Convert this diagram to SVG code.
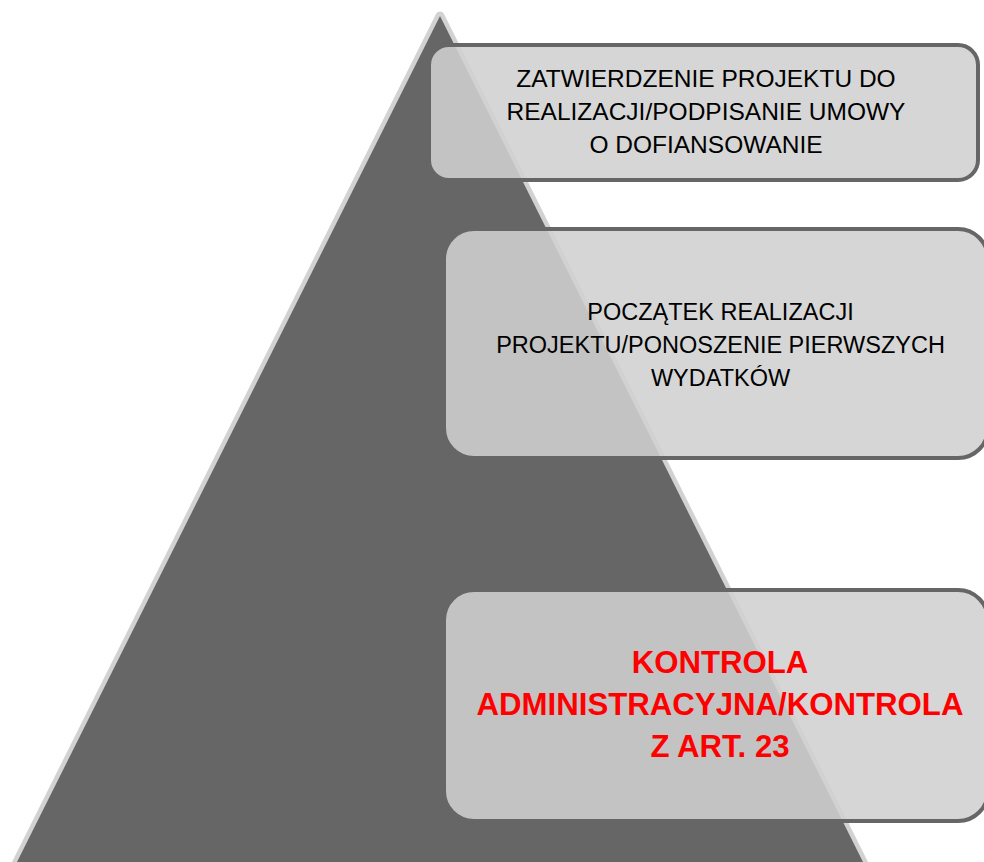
<svg xmlns="http://www.w3.org/2000/svg" width="984" height="862" viewBox="0 0 984 862">
  <style>
    .box { fill: #d0d0d0; fill-opacity: 0.88; stroke: #666666; stroke-width: 4; }
    .lbl { font-family: "Liberation Sans", Arial, sans-serif; text-anchor: middle; fill: #000000; }
    .hot { font-family: "Liberation Sans", Arial, sans-serif; text-anchor: middle; fill: #ff0000; font-weight: bold; font-size: 31.2px; }
  </style>
  <rect width="984" height="862" fill="#ffffff"/>

  <!-- pyramid: light rim drawn first, dark body on top -->
  <g id="pyramid">
    <polygon points="440,16 13,870 867,870" fill="#d2d2d2" stroke="#d2d2d2" stroke-width="9" stroke-linejoin="round"/>
    <polygon points="440,16 13,870 867,870" fill="#666666"/>
  </g>

  <g id="connectors"></g>

  <g id="stage-approval">
    <rect class="box" x="429" y="45" width="549" height="135" rx="20" ry="20"/>
    <text class="lbl" font-size="24.5" x="706" y="87">ZATWIERDZENIE PROJEKTU DO</text>
    <text class="lbl" font-size="24.5" x="706" y="120">REALIZACJI/PODPISANIE UMOWY</text>
    <text class="lbl" font-size="24.5" x="706" y="153">O DOFIANSOWANIE</text>
  </g>

  <g id="stage-start">
    <rect class="box" x="444" y="229" width="544" height="229" rx="30" ry="30"/>
    <text class="lbl" font-size="23.5" x="720.5" y="320">POCZĄTEK REALIZACJI</text>
    <text class="lbl" font-size="23.5" x="720.5" y="353">PROJEKTU/PONOSZENIE PIERWSZYCH</text>
    <text class="lbl" font-size="23.5" x="720.5" y="386">WYDATKÓW</text>
  </g>

  <g id="stage-control">
    <rect class="box" x="444" y="590" width="544" height="231" rx="30" ry="30"/>
    <text class="hot" x="720" y="673">KONTROLA</text>
    <text class="hot" x="720" y="715">ADMINISTRACYJNA/KONTROLA</text>
    <text class="hot" x="720" y="757">Z ART. 23</text>
  </g>
</svg>
